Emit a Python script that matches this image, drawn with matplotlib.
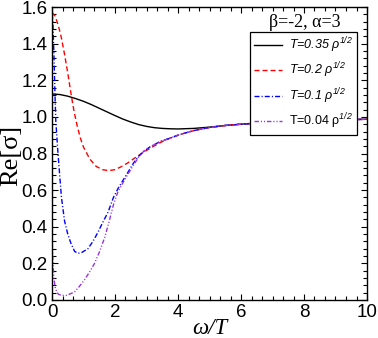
import matplotlib
matplotlib.use("Agg")
import matplotlib.pyplot as plt
from matplotlib.ticker import MultipleLocator, FormatStrFormatter

# tail shared by all curves at large omega/T
x_tail = [5.5, 6.0, 6.5, 7.0, 7.5, 8.0, 8.5, 9.0, 9.5, 10.0]
y_tail = [0.953, 0.960, 0.966, 0.971, 0.975, 0.978, 0.981, 0.983, 0.985, 0.987]

x_035 = [0, 0.25, 0.5, 0.75, 1.0, 1.25, 1.5, 1.75, 2.0, 2.25, 2.5, 2.75, 3.0,
         3.25, 3.5, 3.75, 4.0, 4.5, 5.0] + x_tail
y_035 = [1.125, 1.122, 1.113, 1.100, 1.085, 1.067, 1.047, 1.027, 1.007, 0.988,
         0.972, 0.958, 0.948, 0.941, 0.937, 0.935, 0.934, 0.937, 0.944] + y_tail

x_02 = [0, 0.1, 0.2, 0.3, 0.4, 0.5, 0.6, 0.7, 0.8, 0.9, 1.0, 1.2, 1.4, 1.6, 1.8,
        2.0, 2.2, 2.4, 2.6, 2.8, 3.0, 3.25, 3.5, 3.75, 4.0, 4.25, 4.5, 5.0] + x_tail
y_02 = [1.57, 1.55, 1.50, 1.43, 1.34, 1.24, 1.13, 1.03, 0.95, 0.885, 0.835, 0.77,
        0.73, 0.712, 0.706, 0.712, 0.728, 0.748, 0.772, 0.795, 0.817, 0.842, 0.865,
        0.884, 0.900, 0.913, 0.925, 0.942] + y_tail

x_01 = [0.01, 0.03, 0.06, 0.09, 0.12, 0.19, 0.3, 0.4, 0.5, 0.6, 0.72, 0.83, 0.95,
        1.14, 1.3, 1.46, 1.6, 1.78, 1.95, 2.1, 2.26, 2.42, 2.58, 2.75, 2.9, 3.1,
        3.43, 3.75, 4.0, 4.25, 4.5, 5.0] + x_tail
y_01 = [1.56, 1.50, 1.35, 1.15, 0.98, 0.80, 0.56, 0.43, 0.36, 0.31, 0.265, 0.255,
        0.26, 0.28, 0.32, 0.37, 0.42, 0.48, 0.56, 0.61, 0.655, 0.70, 0.746, 0.785,
        0.81, 0.835, 0.865, 0.884, 0.900, 0.913, 0.925, 0.942] + y_tail

x_004 = [0.01, 0.03, 0.06, 0.1, 0.15, 0.2, 0.3, 0.45, 0.6, 0.72, 0.85, 1.03, 1.2,
         1.35, 1.5, 1.67, 1.8, 1.95, 2.09, 2.25, 2.42, 2.6, 2.75, 2.9, 3.1,
         3.43, 3.75, 4.0, 4.25, 4.5, 5.0] + x_tail
y_004 = [0.31, 0.20, 0.12, 0.07, 0.045, 0.032, 0.025, 0.025, 0.035, 0.045, 0.07,
         0.11, 0.155, 0.20, 0.26, 0.34, 0.42, 0.52, 0.59, 0.64, 0.69, 0.74, 0.78,
         0.81, 0.835, 0.865, 0.884, 0.900, 0.913, 0.925, 0.942] + y_tail

labels = [r"T=0.35 ρ$^{1/2}$", r"T=0.2 ρ$^{1/2}$",
          r"T=0.1 ρ$^{1/2}$", r"T=0.04 ρ$^{1/2}$"]

plt.rcParams.update({
    "font.family": "Liberation Sans",
    "mathtext.fontset": "custom",
    "mathtext.rm": "Liberation Sans:italic",
    "mathtext.it": "Liberation Sans:italic",
    "mathtext.bf": "Liberation Sans:bold",
})

fig = plt.figure(figsize=(3.78, 3.38), dpi=100)
ax = fig.add_axes([52 / 378, 38 / 338, 315 / 378, 293 / 338])

ax.plot(x_035, y_035, color="black", lw=1.0, label=labels[0])
ax.plot(x_02, y_02, color="red", lw=1.0, dashes=(3.6, 2.2), label=labels[1])
ax.plot(x_01, y_01, color="blue", lw=1.0, dashes=(3.6, 1.5, 0.8, 1.5), label=labels[2])
ax.plot(x_004, y_004, color="#9933dd", lw=1.0,
        dashes=(3.2, 1.4, 0.8, 1.4, 0.8, 1.4), label=labels[3])

ax.set_xlim(0, 10)
ax.set_ylim(0, 1.6)
ax.xaxis.set_major_locator(MultipleLocator(2))
ax.xaxis.set_minor_locator(MultipleLocator(1 / 3))
ax.yaxis.set_major_locator(MultipleLocator(0.2))
ax.yaxis.set_minor_locator(MultipleLocator(0.04))
ax.yaxis.set_major_formatter(FormatStrFormatter("%.1f"))
ax.tick_params(which="both", direction="in", top=True, right=True,
               labelsize=13.5, width=0.8)
ax.tick_params(which="major", length=4.5, pad=3)
ax.tick_params(which="minor", length=3)
for s in ax.spines.values():
    s.set_linewidth(1.0)

# axis titles placed in figure pixels, as in the original
fig.text(210 / 378, 1 - 328 / 338, "ω/T", fontsize=16.5, family="Liberation Serif",
         style="italic", ha="center", va="center")
fig.text(11 / 378, 1 - 155 / 338, "Re[σ]", fontsize=19, family="Liberation Serif",
         rotation=90, ha="center", va="center")

ax.text(0.803, 0.932, "β=-2, α=3", transform=ax.transAxes, ha="center",
        va="baseline", fontsize=13, family="Liberation Serif")

leg = ax.legend(loc="upper right", bbox_to_anchor=(0.968, 0.915),
                prop={"style": "italic", "size": 9}, frameon=True, fancybox=False,
                edgecolor="black", framealpha=1, handlelength=2.2,
                handletextpad=0.6, borderpad=0.3, labelspacing=0.45,
                borderaxespad=0)
leg.get_frame().set_linewidth(0.9)
leg.get_texts()[3].set_fontstyle("normal")

fig.savefig("out.png", dpi=100)
